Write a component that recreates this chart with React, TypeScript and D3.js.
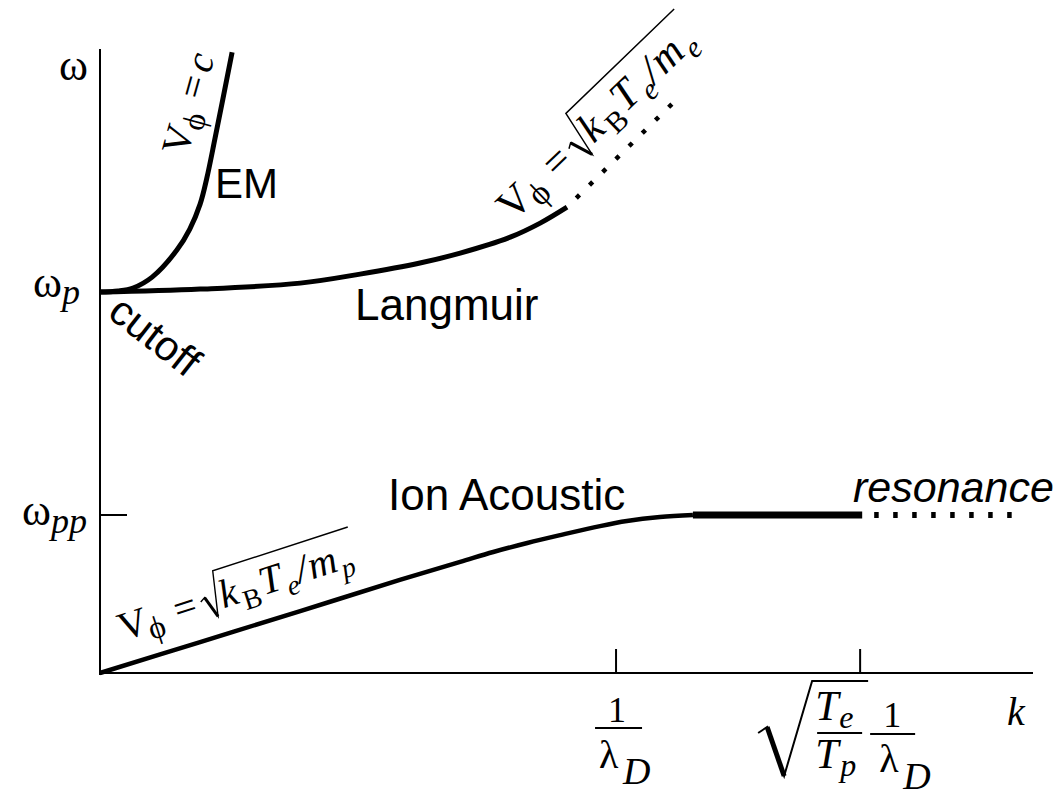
import React from 'react';
import * as d3 from 'd3';

const W = 1060;
const H = 796;

// Wavenumber k in units of 1/λ_D, frequency ω in units of ω_pp.
const emK = [0, 0.035, 0.064, 0.101, 0.149, 0.174, 0.194, 0.207, 0.223, 0.256];
const emW = [2.411, 2.418, 2.437, 2.506, 2.677, 2.81, 2.968, 3.133, 3.386, 3.93];

const langK = [0, 0.194, 0.388, 0.504, 0.62, 0.698, 0.795, 0.853, 0.905];
const langW = [2.411, 2.43, 2.468, 2.525, 2.595, 2.658, 2.759, 2.848, 2.949];
const langDotK = [0.905, 1.114];
const langDotW = [2.949, 3.62];

const ionK = [0, 0.194, 0.388, 0.581, 0.698, 0.762, 0.828, 0.892, 0.969, 1.021, 1.085, 1.149];
const ionW = [0, 0.196, 0.392, 0.589, 0.703, 0.766, 0.823, 0.873, 0.93, 0.962, 0.987, 1.0];
const plateauK = [1.149, 1.477];
const resK = [1.477, 1.767];
const plateauW = 1.0;

const omegaP = 2.411;
const omegaPP = 1.0;
const kDebye = 1;
const kRes = 1.473;
const kMax = 1.808;
const wMax = 3.95;

const SERIF = "'Liberation Serif', 'Times New Roman', serif";
const SANS = "'Liberation Sans', Arial, Helvetica, sans-serif";

const x = d3.scaleLinear().domain([0, kMax]).range([100, 1033]);
const y = d3.scaleLinear().domain([0, wMax]).range([673, 49]);

const line = d3
  .line<[number, number]>()
  .x((d) => x(d[0]))
  .y((d) => y(d[1]))
  .curve(d3.curveCatmullRom.alpha(0.5));

const straight = d3
  .line<[number, number]>()
  .x((d) => x(d[0]))
  .y((d) => y(d[1]));

const zip = (ks: number[], ws: number[]) => ks.map((k, i) => [k, ws[i]] as [number, number]);

// V_ϕ = √(k_B T_e / m_s) written along a branch, in a rotated frame
function PhaseVelocity({
  tx,
  ty,
  angle,
  scale,
  sub,
}: {
  tx: number;
  ty: number;
  angle: number;
  scale: number;
  sub: string;
}) {
  return (
    <g transform={`translate(${tx},${ty}) rotate(${angle}) scale(${scale})`} fontFamily={SERIF} fill="#000">
      <text x={0} y={0} fontSize={40}>V</text>
      <text x={28} y={8} fontSize={32}>ϕ</text>
      <text x={58} y={0} fontSize={40}>=</text>
      <path d="M86,-13 L91,-16 L98,6 L107,-39 L249,-39" fill="none" stroke="#000" strokeWidth={1.4} />
      <path d="M91,-16 L98,6" fill="none" stroke="#000" strokeWidth={3} />
      <text x={106} y={0} fontSize={40} fontStyle="italic">k</text>
      <text x={127} y={9} fontSize={28}>B</text>
      <text x={148} y={0} fontSize={40} fontStyle="italic">T</text>
      <text x={173} y={9} fontSize={28} fontStyle="italic">e</text>
      <text x={186} y={0} fontSize={40} fontStyle="italic">/</text>
      <text x={199} y={0} fontSize={40} fontStyle="italic">m</text>
      <text x={230} y={9} fontSize={28} fontStyle="italic">{sub}</text>
    </g>
  );
}

export default function App() {
  const x0 = x(0);
  const y0 = y(0);
  const xD = x(kDebye);
  const xR = x(kRes);
  const yP = y(omegaP);
  const yPP = y(omegaPP);

  return (
    <svg
      width={W}
      height={H}
      viewBox={`0 0 ${W} ${H}`}
      style={{ position: 'absolute', left: 0, top: 0, background: '#fff' }}
    >
      {/* axes */}
      <line x1={x0} y1={y(wMax)} x2={x0} y2={y0 + 2} stroke="#000" strokeWidth={2} />
      <line x1={x0} y1={y0} x2={x(kMax)} y2={y0} stroke="#000" strokeWidth={2} />
      {/* ticks */}
      <line x1={x0} y1={yPP} x2={x0 + 27} y2={yPP} stroke="#000" strokeWidth={2} />
      {[kDebye, kRes].map((k) => (
        <line key={k} x1={x(k)} y1={y0} x2={x(k)} y2={y0 - 24} stroke="#000" strokeWidth={2} />
      ))}

      {/* dispersion branches */}
      <path d={line(zip(emK, emW)) || ''} fill="none" stroke="#000" strokeWidth={5} />
      <path d={line(zip(langK, langW)) || ''} fill="none" stroke="#000" strokeWidth={5} />
      <path
        d={straight(zip(langDotK, langDotW)) || ''}
        fill="none"
        stroke="#000"
        strokeWidth={4.5}
        strokeDasharray="4.5 14"
        strokeDashoffset={5.5}
      />
      <path d={line(zip(ionK, ionW)) || ''} fill="none" stroke="#000" strokeWidth={4.5} />
      <path
        d={straight(plateauK.map((k) => [k, plateauW] as [number, number])) || ''}
        fill="none"
        stroke="#000"
        strokeWidth={7}
      />
      <path
        d={straight(resK.map((k) => [k, plateauW] as [number, number])) || ''}
        fill="none"
        stroke="#000"
        strokeWidth={6}
        strokeDasharray="4.5 14.5"
        strokeDashoffset={7}
      />

      {/* ω axis labels */}
      <g fontFamily={SERIF} fill="#000">
        <text x={x0 - 12} y={y(wMax) + 31} fontSize={44} textAnchor="end">ω</text>
        <text x={x0 - 20} y={yP + 5} fontSize={44} textAnchor="end">
          ω<tspan fontSize={36} fontStyle="italic" dy={7}>p</tspan>
        </text>
        <text x={x0 - 13} y={yPP + 10} fontSize={44} textAnchor="end">
          ω<tspan fontSize={36} fontStyle="italic" dy={8}>pp</tspan>
        </text>
      </g>

      {/* k axis labels */}
      <g fontFamily={SERIF} fill="#000">
        <text x={xD + 1} y={722} fontSize={36} textAnchor="middle">1</text>
        <line x1={xD - 21} y1={728} x2={xD + 26} y2={728} stroke="#000" strokeWidth={2} />
        <text x={xD - 17} y={768} fontSize={40}>λ</text>
        <text x={xD + 7} y={784} fontSize={38} fontStyle="italic">D</text>

        <path
          d={`M${xR - 102},${733} L${xR - 93},${727} L${xR - 76},${776} L${xR - 48},${681} L${xR + 8},${681}`}
          fill="none"
          stroke="#000"
          strokeWidth={2}
        />
        <path d={`M${xR - 93},${727} L${xR - 76},${776}`} fill="none" stroke="#000" strokeWidth={5} />
        <text x={xR - 45} y={720} fontSize={42} fontStyle="italic">T</text>
        <text x={xR - 21} y={728} fontSize={32} fontStyle="italic">e</text>
        <line x1={xR - 43} y1={733} x2={xR + 2} y2={733} stroke="#000" strokeWidth={2} />
        <text x={xR - 45} y={768} fontSize={42} fontStyle="italic">T</text>
        <text x={xR - 20} y={776} fontSize={32} fontStyle="italic">p</text>

        <text x={xR + 32} y={727} fontSize={36} textAnchor="middle">1</text>
        <line x1={xR + 10} y1={734} x2={xR + 55} y2={734} stroke="#000" strokeWidth={2} />
        <text x={xR + 19} y={772} fontSize={40}>λ</text>
        <text x={xR + 43} y={789} fontSize={38} fontStyle="italic">D</text>

        <text x={1007} y={725} fontSize={40} fontStyle="italic">k</text>
      </g>

      {/* branch names */}
      <g fontFamily={SANS} fill="#000">
        <text x={215} y={198} fontSize={42}>EM</text>
        <text x={355} y={320} fontSize={44}>Langmuir</text>
        <text x={388} y={510} fontSize={44}>Ion Acoustic</text>
        <text x={853} y={502} fontSize={43} fontStyle="italic">resonance</text>
        <text transform="translate(106,316) rotate(38)" fontSize={42}>cutoff</text>
      </g>

      {/* phase velocities */}
      <g transform="translate(187,157) rotate(-74.5)" fontFamily={SERIF} fill="#000">
        <text x={0} y={0} fontSize={40}>V</text>
        <text x={28} y={8} fontSize={32}>ϕ</text>
        <text x={58} y={0} fontSize={40}>=</text>
        <text x={86} y={0} fontSize={40} fontStyle="italic">c</text>
      </g>
      <PhaseVelocity tx={513} ty={222} angle={-44} scale={1.06} sub="e" />
      <PhaseVelocity tx={123} ty={641} angle={-18} scale={1} sub="p" />
    </svg>
  );
}
